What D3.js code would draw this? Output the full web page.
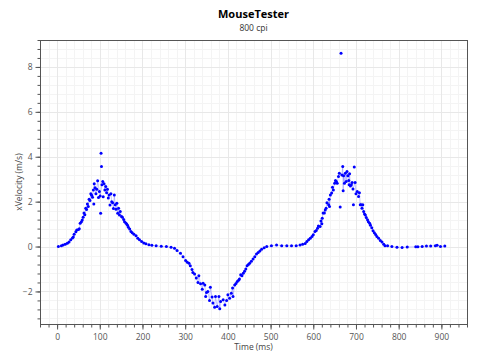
<!DOCTYPE html>
<html>
<head>
<meta charset="utf-8">
<script src="https://cdn.jsdelivr.net/npm/d3@7"></script>
<style>
  html, body { margin: 0; padding: 0; background: #fff; }
  svg { display: block; }
  text { font-family: "Open Sans", "Noto Sans", sans-serif; }
</style>
</head>
<body>
<svg id="chart" width="480" height="360"></svg>
<script>
const title = "MouseTester";
const subtitle = "800 cpi";
const xLabel = "Time (ms)";
const yLabel = "xVelocity (m/s)";
const xTicks = [0, 100, 200, 300, 400, 500, 600, 700, 800, 900];
const yTicks = [-2, 0, 2, 4, 6, 8];

const timeMs = [3,10,14,19,24,28,32,36,38,40,44,46,50,52,54,57,59,61,63,65,67,69,71,73,75,77,79,81,83,85,86,87,89,91,93,95,97,99,101,102,103,104,105,107,108,110,112,114,116,118,120,122,124,126,128,130,132,134,136,138,140,142,144,146,148,151,153,156,158,161,163,165,167,170,173,176,180,185,189,193,198,203,208,215,222,232,244,256,267,275,281,289,295,301,305,309,312,316,318,322,326,330,332,336,340,342,346,348,350,353,357,359,363,365,369,371,375,379,381,383,389,393,397,400,404,408,411,412,416,419,422,425,427,430,433,436,439,442,445,448,451,455,459,463,467,471,475,479,485,491,502,514,526,538,549,560,569,575,581,585,589,593,597,600,604,607,610,612,616,618,620,621,623,626,628,630,632,636,637,638,640,643,645,647,650,652,654,656,659,661,663,665,667,669,670,671,673,675,677,679,681,683,684,685,687,689,691,693,694,696,698,700,703,706,708,710,712,714,716,718,720,722,724,727,729,732,734,737,740,743,746,749,753,757,761,765,768,774,784,796,808,820,840,845,855,865,875,886,890,898,908];

const xVelocity = [0.00,0.04,0.07,0.10,0.15,0.20,0.30,0.38,0.42,0.55,0.66,0.74,0.76,0.79,1.04,1.10,1.18,1.31,1.49,1.42,1.71,1.65,1.90,1.78,2.11,2.05,2.35,2.28,2.20,2.52,1.90,2.80,2.62,2.35,2.55,2.93,2.18,2.45,2.25,1.48,4.16,3.56,2.75,2.90,2.22,2.80,2.52,2.67,2.40,2.55,2.16,2.30,1.85,2.35,2.00,1.95,1.70,2.30,1.86,1.66,1.93,1.48,1.71,1.41,1.56,1.34,1.30,1.20,1.11,1.05,1.00,0.95,0.86,0.78,0.67,0.62,0.55,0.48,0.37,0.30,0.22,0.16,0.12,0.08,0.06,0.03,0.01,0.00,-0.03,-0.08,-0.18,-0.30,-0.45,-0.62,-0.70,-0.74,-0.85,-1.02,-1.16,-1.22,-1.40,-1.60,-1.30,-1.66,-1.90,-1.63,-1.71,-2.23,-2.05,-2.00,-2.40,-1.81,-2.25,-2.52,-2.70,-2.23,-2.67,-2.23,-2.77,-2.45,-2.37,-2.60,-2.40,-2.15,-2.30,-2.08,-1.85,-2.23,-1.71,-1.65,-1.56,-1.50,-1.45,-1.26,-1.30,-1.19,-1.10,-1.00,-0.86,-0.80,-0.74,-0.65,-0.56,-0.45,-0.33,-0.27,-0.20,-0.12,-0.05,0.00,0.03,0.07,0.04,0.03,0.03,0.03,0.07,0.10,0.14,0.22,0.30,0.37,0.45,0.52,0.67,0.72,0.82,0.92,0.89,1.14,1.01,1.26,1.49,1.49,1.63,1.71,1.95,1.86,2.11,1.78,2.30,2.38,2.64,2.52,2.82,2.94,2.90,2.82,3.12,3.27,1.76,8.61,3.19,3.56,2.49,3.15,2.82,3.27,2.90,3.34,3.15,2.94,2.75,3.24,2.70,2.75,2.85,2.56,1.86,3.54,2.85,2.35,2.45,2.23,2.40,1.86,1.86,1.71,1.86,1.56,1.45,1.41,1.29,1.19,1.11,1.04,0.95,0.84,0.70,0.62,0.54,0.45,0.37,0.27,0.20,0.10,0.04,0.03,0.00,-0.03,-0.04,-0.02,-0.01,-0.01,0.00,0.02,0.02,0.04,0.06,0.00,0.02];

// samples that the faint trace line skips (isolated outliers)
const lineSkipTimes = [102, 103, 104, 663, 665, 694, 696, 86, 124, 97, 108];

const data = timeMs.map((t, i) => ({ t, v: xVelocity[i] }));
const lineData = data.filter(d => !lineSkipTimes.includes(d.t));

const W = 480, H = 360;
const m = { left: 40, right: 13, top: 40, bottom: 36 };
const iw = W - m.left - m.right, ih = H - m.top - m.bottom;

const svg = d3.select("#chart");
const x = d3.scaleLinear().domain([-40, 960]).range([m.left, m.left + iw]);
const y = d3.scaleLinear().domain([-3.45, 9.2]).range([m.top + ih, m.top]);

const xMinor = d3.range(-40, 961, 20);
const yMinor = d3.range(-3.2, 9.21, 0.4).map(d => +d.toFixed(2));

const grid = svg.append("g");
grid.selectAll(".xm").data(xMinor).join("line")
  .attr("x1", d => Math.round(x(d)) + 0.5).attr("x2", d => Math.round(x(d)) + 0.5)
  .attr("y1", m.top).attr("y2", m.top + ih)
  .attr("stroke", "#f4f4f4").attr("stroke-width", 1);
grid.selectAll(".ym").data(yMinor).join("line")
  .attr("y1", d => Math.round(y(d)) + 0.5).attr("y2", d => Math.round(y(d)) + 0.5)
  .attr("x1", m.left).attr("x2", m.left + iw)
  .attr("stroke", "#f4f4f4").attr("stroke-width", 1);
grid.selectAll(".xM").data(xTicks).join("line")
  .attr("x1", d => Math.round(x(d)) + 0.5).attr("x2", d => Math.round(x(d)) + 0.5)
  .attr("y1", m.top).attr("y2", m.top + ih)
  .attr("stroke", "#e8e8e8").attr("stroke-width", 1);
grid.selectAll(".yM").data(yTicks).join("line")
  .attr("y1", d => Math.round(y(d)) + 0.5).attr("y2", d => Math.round(y(d)) + 0.5)
  .attr("x1", m.left).attr("x2", m.left + iw)
  .attr("stroke", "#e8e8e8").attr("stroke-width", 1);

// faint trace + points
const line = d3.line().x(d => x(d.t)).y(d => y(d.v));
svg.append("path").datum(lineData).attr("d", line)
  .attr("fill", "none").attr("stroke", "#0000ff").attr("stroke-opacity", 0.22).attr("stroke-width", 1);
svg.append("g").selectAll("circle").data(data).join("circle")
  .attr("cx", d => x(d.t)).attr("cy", d => y(d.v)).attr("r", 1.5)
  .attr("fill", "#0000ff");

// border
svg.append("rect").attr("x", m.left + 0.5).attr("y", m.top + 0.5)
  .attr("width", iw).attr("height", ih)
  .attr("fill", "none").attr("stroke", "#555").attr("stroke-width", 1);

// axes
const xAxisMinor = d3.axisBottom(x).tickValues(xMinor).tickSize(3).tickFormat("");
const xAxis = d3.axisBottom(x).tickValues(xTicks).tickSize(5).tickPadding(4).tickFormat(d3.format("d"));
const yAxisMinor = d3.axisLeft(y).tickValues(yMinor).tickSize(3).tickFormat("");
const yAxis = d3.axisLeft(y).tickValues(yTicks).tickSize(5).tickPadding(3).tickFormat(d3.format("d"));

function styleAxis(g) {
  g.select(".domain").remove();
  g.selectAll("line").attr("stroke", "#555");
  g.selectAll("text").attr("fill", "#555").style("font-size", "8.5px")
    .style("font-family", "'Open Sans', 'Noto Sans', sans-serif");
}
svg.append("g").attr("transform", `translate(0,${m.top + ih + 0.5})`).call(xAxisMinor).call(styleAxis);
svg.append("g").attr("transform", `translate(0,${m.top + ih + 0.5})`).call(xAxis).call(styleAxis);
svg.append("g").attr("transform", `translate(${m.left + 0.5},0)`).call(yAxisMinor).call(styleAxis);
svg.append("g").attr("transform", `translate(${m.left + 0.5},0)`).call(yAxis).call(styleAxis);

// titles
const cx = m.left + iw / 2;
svg.append("text").attr("x", cx).attr("y", 18).attr("text-anchor", "middle")
  .style("font-size", "11px").style("font-weight", "bold").attr("fill", "#000").text(title);
svg.append("text").attr("x", cx).attr("y", 31).attr("text-anchor", "middle")
  .style("font-size", "8.5px").attr("fill", "#333").text(subtitle);
svg.append("text").attr("x", cx).attr("y", 350).attr("text-anchor", "middle")
  .style("font-size", "8.5px").attr("fill", "#444").text(xLabel);
svg.append("text").attr("transform", `translate(22,${m.top + ih / 2}) rotate(-90)`)
  .attr("text-anchor", "middle").style("font-size", "8.5px").attr("fill", "#444").text(yLabel);
</script>
</body>
</html>
